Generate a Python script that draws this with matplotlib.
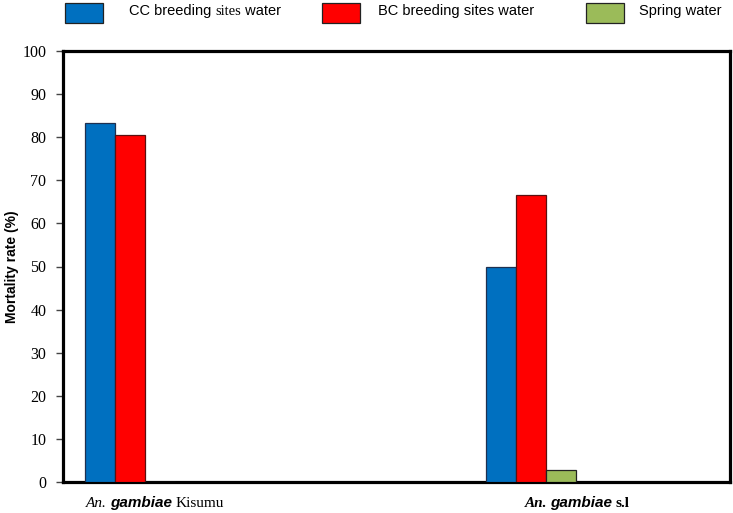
import matplotlib
matplotlib.use("Agg")
import matplotlib.pyplot as plt
from matplotlib.patches import Rectangle
from matplotlib.offsetbox import TextArea, HPacker, AnnotationBbox
import numpy as np

# ---- data ----
groups = ["Kisumu", "s.l"]
series_names = ["CC breeding sites water", "BC breeding sites water", "Spring water"]
cc_values = [83.3, 49.8]
bc_values = [80.6, 66.6]
spring_values = [0.0, 2.8]
y_ticks = [0, 10, 20, 30, 40, 50, 60, 70, 80, 90, 100]

colors = ["#0070C0", "#FF0000", "#9BBB59"]
edges = ["#1F3050", "#5A1010", "#222222"]

W, H = 733, 513
fig = plt.figure(figsize=(W / 100, H / 100), dpi=100)
ax = fig.add_axes([63 / W, 1 - 482 / H, (730 - 63) / W, (482 - 51) / H])

x = np.arange(len(groups))
w = 0.075
for i, vals in enumerate([cc_values, bc_values, spring_values]):
    ax.bar(x + (i - 1) * w, vals, width=w, color=colors[i], edgecolor=edges[i],
           linewidth=0.9, zorder=3)

ax.set_xlim(-0.167, -0.167 + (730 - 63) / 401)
ax.set_ylim(0, 100)
ax.set_yticks(y_ticks)
ax.set_yticklabels([str(t) for t in y_ticks], family="Liberation Serif", fontsize=11.5)
ax.set_xticks([])
ax.tick_params(axis="y", direction="out", length=5, width=1, color="#444444", pad=7)
for s in ax.spines.values():
    s.set_linewidth(2.3)
    s.set_color("black")

ax.set_ylabel("Mortality rate (%)", family="Liberation Sans", fontweight="bold",
              fontsize=10)
ax.yaxis.set_label_coords(-0.066, 0.5)

# x group labels with mixed fonts
label_offsets = [0.062, 0.115]
suffixes = ["Kisumu", "s.l"]
suffix_bold = [False, True]
for gi in range(len(groups)):
    parts = [
        TextArea("An.", textprops=dict(family="Liberation Serif", style="italic",
                                       fontweight="bold" if suffix_bold[gi] else "normal",
                                       fontsize=11)),
        TextArea("gambiae", textprops=dict(family="Liberation Sans", style="italic",
                                           fontweight="bold", fontsize=11)),
        TextArea(suffixes[gi], textprops=dict(family="Liberation Serif",
                                              fontweight="bold" if suffix_bold[gi] else "normal",
                                              fontsize=11)),
    ]
    box = HPacker(children=parts, align="baseline", pad=0, sep=2.5)
    ab = AnnotationBbox(box, (x[gi] + label_offsets[gi], -0.049),
                        xycoords=ax.get_xaxis_transform(), frameon=False,
                        box_alignment=(0.5, 0.5), annotation_clip=False)
    ax.add_artist(ab)

# legend drawn at top of figure
patch_x = [65, 322, 586]
text_x = [129, 378, 639]
for i in range(3):
    r = Rectangle((patch_x[i] / W, 1 - 23 / H), 38 / W, 20 / H,
                  transform=fig.transFigure, facecolor=colors[i],
                  edgecolor="#222222", linewidth=0.9)
    fig.patches.append(r)
    if i == 0:
        parts = [
            TextArea("CC breeding ", textprops=dict(family="Liberation Sans", fontsize=10.5)),
            TextArea("sites", textprops=dict(family="Liberation Serif", fontsize=10.5)),
            TextArea(" water", textprops=dict(family="Liberation Sans", fontsize=10.5)),
        ]
        box = HPacker(children=parts, align="baseline", pad=0, sep=0)
        ab = AnnotationBbox(box, (text_x[i] / W, 1 - 11 / H), xycoords=fig.transFigure,
                            frameon=False, box_alignment=(0, 0.5), annotation_clip=False)
        fig.add_artist(ab)
    else:
        fig.text(text_x[i] / W, 1 - 11 / H, series_names[i], family="Liberation Sans",
                 fontsize=10.5, ha="left", va="center")

fig.savefig("out.png", dpi=100)
